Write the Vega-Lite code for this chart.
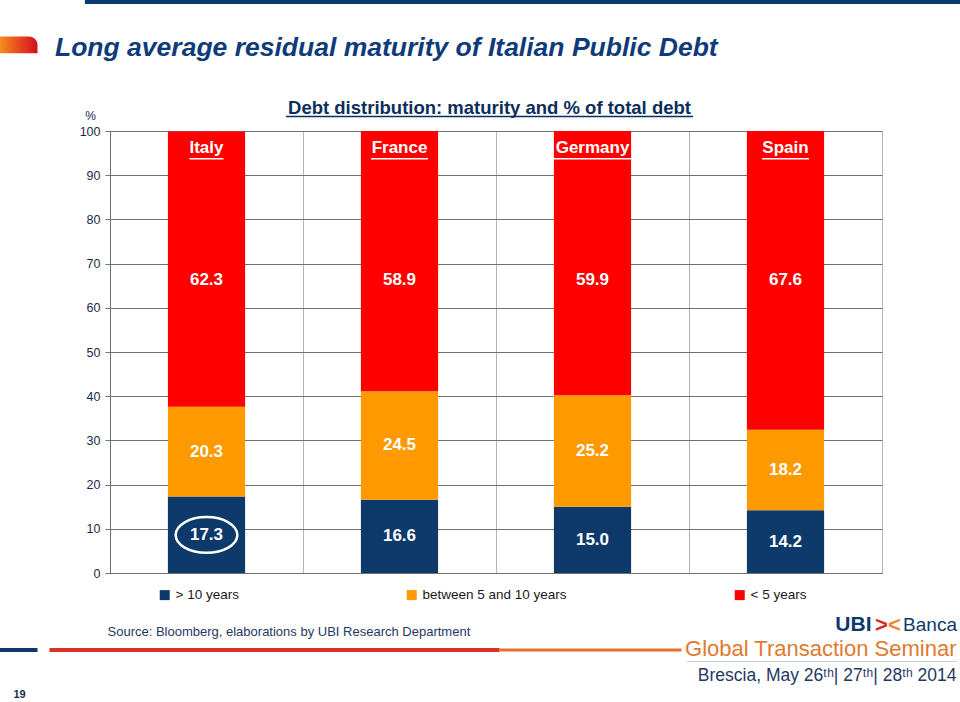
{
  "$schema": "https://vega.github.io/schema/vega-lite/v6.json",
  "width": 772,
  "height": 442,
  "autosize": {"type": "none"},
  "padding": {"left": 110, "top": 131, "right": 78, "bottom": 129},
  "background": "white",
  "config": {
    "font": "Liberation Sans",
    "view": {"stroke": "#b4b4b4"}
  },
  "title": {
    "text": "Long average residual maturity of Italian Public Debt",
    "anchor": "start",
    "frame": "group",
    "dx": -55,
    "offset": -63,
    "font": "Liberation Sans",
    "fontSize": 26.5,
    "fontStyle": "italic",
    "fontWeight": "bold",
    "color": "#0F3B7A"
  },
  "data": {
    "values": [
      {"country": "Italy", "maturity": "> 10 years", "value": 17.3},
      {"country": "Italy", "maturity": "between 5 and 10 years", "value": 20.3},
      {"country": "Italy", "maturity": "< 5 years", "value": 62.3},
      {"country": "France", "maturity": "> 10 years", "value": 16.6},
      {"country": "France", "maturity": "between 5 and 10 years", "value": 24.5},
      {"country": "France", "maturity": "< 5 years", "value": 58.9},
      {"country": "Germany", "maturity": "> 10 years", "value": 15.0},
      {"country": "Germany", "maturity": "between 5 and 10 years", "value": 25.2},
      {"country": "Germany", "maturity": "< 5 years", "value": 59.9},
      {"country": "Spain", "maturity": "> 10 years", "value": 14.2},
      {"country": "Spain", "maturity": "between 5 and 10 years", "value": 18.2},
      {"country": "Spain", "maturity": "< 5 years", "value": 67.6}
    ]
  },
  "resolve": {"axis": {"x": "independent", "y": "independent"}},
  "layer": [
    {
      "transform": [{"calculate": "indexof(['> 10 years','between 5 and 10 years','< 5 years'], datum.maturity)", "as": "rank"}],
      "mark": {"type": "bar", "clip": true, "width": {"band": 0.4}},
      "encoding": {
        "x": {
          "field": "country", "type": "nominal",
          "scale": {"domain": ["Italy", "France", "Germany", "Spain"], "paddingInner": 0, "paddingOuter": 0},
          "axis": {
            "orient": "bottom", "labels": false, "ticks": false, "domain": false,
            "grid": true, "tickBand": "extent", "gridColor": "#b4b4b4", "gridWidth": 1,
            "title": "Source: Bloomberg, elaborations by UBI Research Department",
            "titleAnchor": "start", "titleAlign": "left", "titleBaseline": "middle",
            "titleX": -3, "titleY": 58, "titleFontSize": 13, "titleFontWeight": "normal", "titleColor": "#1F3864"
          }
        },
        "y": {
          "field": "value", "type": "quantitative", "stack": "zero",
          "scale": {"domain": [0, 100], "nice": false},
          "axis": {
            "orient": "left",
            "values": [0, 10, 20, 30, 40, 50, 60, 70, 80, 90, 100],
            "title": "%", "titleAngle": 0, "titleX": -20, "titleY": -16,
            "titleAlign": "center", "titleBaseline": "middle",
            "titleFontSize": 12, "titleFontWeight": "normal", "titleColor": "#1A2B48",
            "grid": true, "gridColor": "#707070", "domainColor": "#707070",
            "tickColor": "#707070", "tickSize": 5,
            "labelFontSize": 12.5, "labelColor": "#1A2B48", "labelPadding": 5
          }
        },
        "color": {
          "field": "maturity", "type": "nominal",
          "scale": {"domain": ["> 10 years", "between 5 and 10 years", "< 5 years"], "range": ["#0D3A6B", "#FF9900", "#FF0000"]},
          "legend": {
            "orient": "none", "legendX": 48, "legendY": 457, "direction": "horizontal",
            "title": null, "symbolType": "square", "symbolSize": 100, "symbolStrokeWidth": 0,
            "labelFontSize": 13.5, "labelColor": "#1a1a1a", "columnPadding": 166, "labelOffset": 4, "padding": 0
          }
        },
        "order": {"field": "rank", "type": "quantitative"}
      }
    },
    {
      "transform": [
        {"filter": "datum.maturity !== '< 5 years'"},
        {"calculate": "indexof(['> 10 years','between 5 and 10 years','< 5 years'], datum.maturity)", "as": "rank"}
      ],
      "mark": {"type": "text", "color": "white", "fontWeight": "bold", "fontSize": 17, "baseline": "middle"},
      "encoding": {
        "x": {"field": "country", "type": "nominal", "axis": null},
        "y": {"field": "value", "type": "quantitative", "stack": "zero", "bandPosition": 0.5, "axis": null},
        "order": {"field": "rank", "type": "quantitative"},
        "text": {"field": "value", "type": "quantitative", "format": ".1f"}
      }
    },
    {
      "transform": [{"filter": "datum.maturity === '< 5 years'"}],
      "mark": {"type": "text", "color": "white", "fontWeight": "bold", "fontSize": 17, "baseline": "middle"},
      "encoding": {
        "x": {"field": "country", "type": "nominal", "axis": null},
        "y": {"datum": 66.3, "type": "quantitative", "axis": null},
        "text": {"field": "value", "type": "quantitative", "format": ".1f"}
      }
    },
    {
      "transform": [{"filter": "datum.maturity === '< 5 years'"}],
      "mark": {"type": "text", "color": "white", "fontWeight": "bold", "fontSize": 17, "baseline": "middle"},
      "encoding": {
        "x": {
          "field": "country", "type": "nominal",
          "axis": {
            "orient": "top", "labels": false, "ticks": false, "domain": false, "grid": false,
            "title": "Debt distribution: maturity and % of total debt",
            "titleX": 379, "titleY": -24, "titleAlign": "center", "titleBaseline": "middle",
            "titleFontSize": 18.5, "titleFontWeight": "bold", "titleColor": "#0B2E5C"
          }
        },
        "y": {"datum": 96.2, "type": "quantitative", "axis": null},
        "text": {"field": "country", "type": "nominal"}
      }
    },
    {
      "transform": [{"filter": "datum.country === 'Italy' && datum.maturity === '> 10 years'"}],
      "mark": {"type": "point", "shape": "M-1,0A1,0.58,0,1,1,1,0A1,0.58,0,1,1,-1,0Z", "filled": false, "stroke": "white", "strokeWidth": 2.5, "size": 3800, "opacity": 1},
      "encoding": {
        "x": {"field": "country", "type": "nominal", "axis": null},
        "y": {"datum": 8.6, "type": "quantitative", "axis": null}
      }
    },
    {
      "data": {"values": [{}]},
      "mark": {"type": "rule", "color": "white", "strokeWidth": 1.5, "xOffset": -17, "x2Offset": 17},
      "encoding": {
        "x": {"datum": "Italy", "type": "nominal", "axis": null},
        "x2": {"datum": "Italy"},
        "y": {"datum": 93.7, "type": "quantitative", "axis": null}
      }
    },
    {
      "data": {"values": [{}]},
      "mark": {"type": "rule", "color": "white", "strokeWidth": 1.5, "xOffset": -28.5, "x2Offset": 28.5},
      "encoding": {
        "x": {"datum": "France", "type": "nominal", "axis": null},
        "x2": {"datum": "France"},
        "y": {"datum": 93.7, "type": "quantitative", "axis": null}
      }
    },
    {
      "data": {"values": [{}]},
      "mark": {"type": "rule", "color": "white", "strokeWidth": 1.5, "xOffset": -38.5, "x2Offset": 38.5},
      "encoding": {
        "x": {"datum": "Germany", "type": "nominal", "axis": null},
        "x2": {"datum": "Germany"},
        "y": {"datum": 93.7, "type": "quantitative", "axis": null}
      }
    },
    {
      "data": {"values": [{}]},
      "mark": {"type": "rule", "color": "white", "strokeWidth": 1.5, "xOffset": -23.5, "x2Offset": 23.5},
      "encoding": {
        "x": {"datum": "Spain", "type": "nominal", "axis": null},
        "x2": {"datum": "Spain"},
        "y": {"datum": 93.7, "type": "quantitative", "axis": null}
      }
    },
    {
      "data": {"values": [{}]},
      "mark": {"type": "rule", "color": "#0B2E5C", "strokeWidth": 1.5, "xOffset": 79.4, "x2Offset": -92.4},
      "encoding": {
        "x": {"datum": "Italy", "type": "nominal", "axis": null},
        "x2": {"datum": "Spain"},
        "y": {"datum": 103.3, "type": "quantitative", "axis": null}
      }
    },
    {
      "data": {"values": [{}]},
      "mark": {"type": "rule", "color": "#0B3A6E", "strokeWidth": 5, "xOffset": -121.6, "x2Offset": 175.6},
      "encoding": {
        "x": {"datum": "Italy", "type": "nominal", "axis": null},
        "x2": {"datum": "Spain"},
        "y": {"datum": 129.3, "type": "quantitative", "axis": null}
      }
    },
    {
      "data": {"values": [{}]},
      "mark": {
        "type": "rect", "cornerRadiusTopRight": 16, "xOffset": -207, "x2Offset": -169,
        "fill": {"gradient": "linear", "x1": 0, "x2": 1, "y1": 0, "y2": 0, "stops": [{"offset": 0, "color": "#F39020"}, {"offset": 0.5, "color": "#EA4A1E"}, {"offset": 1, "color": "#D0101E"}]}
      },
      "encoding": {
        "x": {"datum": "Italy", "type": "nominal", "axis": null},
        "x2": {"datum": "Italy"},
        "y": {"datum": 121.4, "type": "quantitative", "axis": null},
        "y2": {"datum": 117.6}
      }
    },
    {
      "data": {"values": [{}]},
      "mark": {"type": "rule", "color": "#0D3A6B", "strokeWidth": 4, "xOffset": -207, "x2Offset": -169},
      "encoding": {
        "x": {"datum": "Italy", "type": "nominal", "axis": null},
        "x2": {"datum": "Italy"},
        "y": {"datum": -17.4, "type": "quantitative", "axis": null}
      }
    },
    {
      "data": {"values": [{}]},
      "mark": {"type": "rule", "color": "#D9302A", "strokeWidth": 4, "xOffset": -157, "x2Offset": 100},
      "encoding": {
        "x": {"datum": "Italy", "type": "nominal", "axis": null},
        "x2": {"datum": "France"},
        "y": {"datum": -17.4, "type": "quantitative", "axis": null}
      }
    },
    {
      "data": {"values": [{}]},
      "mark": {"type": "rule", "color": "#E5702C", "strokeWidth": 3, "xOffset": 100, "x2Offset": -104},
      "encoding": {
        "x": {"datum": "France", "type": "nominal", "axis": null},
        "x2": {"datum": "Spain"},
        "y": {"datum": -17.4, "type": "quantitative", "axis": null}
      }
    },
    {
      "data": {"values": [{}]},
      "mark": {"type": "rule", "color": "#8a94a8", "strokeWidth": 1, "strokeDash": [1, 1], "xOffset": -98, "x2Offset": 171},
      "encoding": {
        "x": {"datum": "Spain", "type": "nominal", "axis": null},
        "x2": {"datum": "Spain"},
        "y": {"datum": -20.0, "type": "quantitative", "axis": null}
      }
    },
    {
      "data": {"values": [{"label": "19"}]},
      "mark": {"type": "text", "fontWeight": "bold", "fontSize": 11, "color": "#1A2B48", "dx": -187, "baseline": "middle"},
      "encoding": {
        "x": {"datum": "Italy", "type": "nominal", "axis": null},
        "y": {"datum": -27.6, "type": "quantitative", "axis": null},
        "text": {"field": "label", "type": "nominal"}
      }
    },
    {
      "data": {"values": [{"label": "UBI"}]},
      "mark": {"type": "text", "fontWeight": "bold", "fontSize": 21, "color": "#0D3A6B", "dx": 86, "align": "right", "baseline": "middle"},
      "encoding": {
        "x": {"datum": "Spain", "type": "nominal", "axis": null},
        "y": {"datum": -11.8, "type": "quantitative", "axis": null},
        "text": {"field": "label", "type": "nominal"}
      }
    },
    {
      "data": {"values": [{"label": ">"}]},
      "mark": {"type": "text", "fontWeight": "bold", "fontSize": 22, "color": "#D9262B", "dx": 96, "align": "center", "baseline": "middle"},
      "encoding": {
        "x": {"datum": "Spain", "type": "nominal", "axis": null},
        "y": {"datum": -11.8, "type": "quantitative", "axis": null},
        "text": {"field": "label", "type": "nominal"}
      }
    },
    {
      "data": {"values": [{"label": "<"}]},
      "mark": {"type": "text", "fontWeight": "bold", "fontSize": 22, "color": "#EE8A2E", "dx": 109, "align": "center", "baseline": "middle"},
      "encoding": {
        "x": {"datum": "Spain", "type": "nominal", "axis": null},
        "y": {"datum": -11.8, "type": "quantitative", "axis": null},
        "text": {"field": "label", "type": "nominal"}
      }
    },
    {
      "data": {"values": [{"label": "Banca"}]},
      "mark": {"type": "text", "fontSize": 19, "color": "#0D3A6B", "dx": 117.6, "align": "left", "baseline": "middle"},
      "encoding": {
        "x": {"datum": "Spain", "type": "nominal", "axis": null},
        "y": {"datum": -11.8, "type": "quantitative", "axis": null},
        "text": {"field": "label", "type": "nominal"}
      }
    },
    {
      "data": {"values": [{"label": "Global Transaction Seminar"}]},
      "mark": {"type": "text", "fontSize": 22, "color": "#E07A2E", "dx": 171, "align": "right", "baseline": "middle"},
      "encoding": {
        "x": {"datum": "Spain", "type": "nominal", "axis": null},
        "y": {"datum": -17.3, "type": "quantitative", "axis": null},
        "text": {"field": "label", "type": "nominal"}
      }
    },
    {
      "data": {"values": [{"label": "Brescia, May 26ᵗʰ| 27ᵗʰ| 28ᵗʰ 2014"}]},
      "mark": {"type": "text", "fontSize": 17.5, "color": "#1F3864", "dx": 171, "align": "right", "baseline": "middle"},
      "encoding": {
        "x": {"datum": "Spain", "type": "nominal", "axis": null},
        "y": {"datum": -23.2, "type": "quantitative", "axis": null},
        "text": {"field": "label", "type": "nominal"}
      }
    }
  ]
}
